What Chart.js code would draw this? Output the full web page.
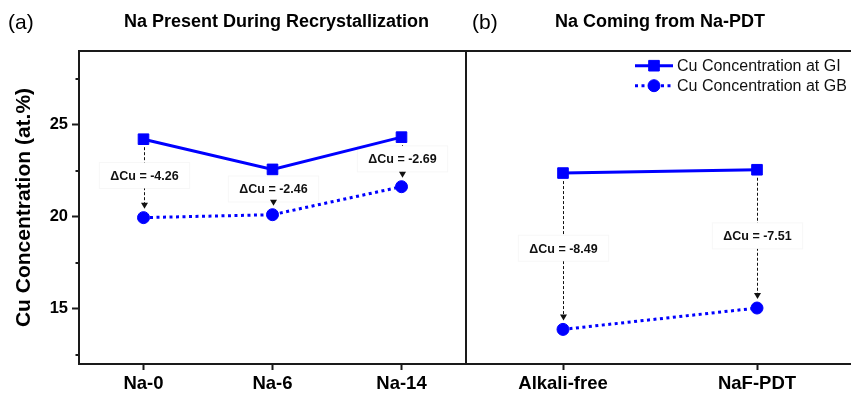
<!DOCTYPE html>
<html>
<head>
<meta charset="utf-8">
<script src="https://cdn.jsdelivr.net/npm/chart.js@4.4.1/dist/chart.umd.min.js"></script>
<style>
  html, body { margin: 0; padding: 0; background: #fff; }
  #wrap { position: relative; width: 851px; height: 393px; overflow: hidden; background: #fff; }
  #cA { position: absolute; left: 0; top: 0; }
  #cB { position: absolute; left: 465px; top: 0; }
</style>
</head>
<body>
<div id="wrap">
  <canvas id="cA" width="468" height="393"></canvas>
  <canvas id="cB" width="390" height="393"></canvas>
</div>
<script>
// Panel (a): Na present during recrystallization
const recrystCategories = ['Na-0', 'Na-6', 'Na-14'];
const recrystGI = [24.21, 22.57, 24.32];
const recrystGB = [19.95, 20.11, 21.63];

// Panel (b): Na supplied by post-deposition treatment
const pdtCategories = ['Alkali-free', 'NaF-PDT'];
const pdtGI = [22.37, 22.55];
const pdtGB = [13.88, 15.04];

const yTickLabels = [15, 20, 25];
const seriesNames = ['Cu Concentration at GI', 'Cu Concentration at GB'];
const panelTitles = ['Na Present During Recrystallization', 'Na Coming from Na-PDT'];
const panelLetters = ['(a)', '(b)'];
const yAxisTitle = 'Cu Concentration (at.%)';

const FONT = '"Liberation Sans", Arial, Helvetica, sans-serif';
const BLUE = '#0000ff';
const AXIS = '#1a1a1a';

function makeDatasets(gi, gb) {
  return [
    {
      label: seriesNames[0], data: gi,
      borderColor: BLUE, backgroundColor: BLUE, borderWidth: 3,
      pointStyle: 'rect', pointRadius: 7.5, pointBorderWidth: 1,
      pointBackgroundColor: BLUE, pointBorderColor: BLUE, tension: 0
    },
    {
      label: seriesNames[1], data: gb,
      borderColor: BLUE, backgroundColor: BLUE, borderWidth: 3, borderDash: [3, 3.5],
      pointStyle: 'circle', pointRadius: 6, pointBorderWidth: 1,
      pointBackgroundColor: BLUE, pointBorderColor: BLUE, tension: 0
    }
  ];
}

// Dashed arrows from GI to GB with the difference written in a white box
const deltaArrows = {
  id: 'deltaArrows',
  beforeDatasetsDraw(chart) {
    const { ctx } = chart;
    const x = chart.scales.x, y = chart.scales.y;
    const gi = chart.data.datasets[0].data, gb = chart.data.datasets[1].data;
    ctx.save();
    ctx.font = 'bold 12.5px ' + FONT;
    gi.forEach((v, i) => {
      const px = Math.round(x.getPixelForValue(i)) + 0.5;
      const y1 = y.getPixelForValue(v);
      const y2 = y.getPixelForValue(gb[i]);
      const label = '\u0394Cu = ' + (gb[i] - v).toFixed(2);
      const cy = (y1 + y2) / 2 - 3;
      const tw = ctx.measureText(label).width;
      const bw = tw + 22, bh = 26;
      ctx.strokeStyle = '#111';
      ctx.lineWidth = 1;
      ctx.setLineDash([3, 2]);
      ctx.beginPath();
      ctx.moveTo(px, y1 + 8);
      ctx.lineTo(px, y2 - 14);
      ctx.stroke();
      ctx.setLineDash([]);
      ctx.fillStyle = '#fff';
      ctx.fillRect(px - bw / 2, cy - bh / 2, bw, bh);
      ctx.strokeStyle = 'rgba(0,0,0,0.035)';
      ctx.strokeRect(px - bw / 2, cy - bh / 2, bw, bh);
      ctx.fillStyle = '#111';
      ctx.textAlign = 'center';
      ctx.textBaseline = 'middle';
      ctx.fillText(label, px, cy + 1);
      ctx.beginPath();
      ctx.moveTo(px - 3.5, y2 - 15);
      ctx.lineTo(px + 3.5, y2 - 15);
      ctx.lineTo(px, y2 - 9);
      ctx.closePath();
      ctx.fill();
    });
    ctx.restore();
  }
};

// Panel title, panel letter, frame lines and (optionally) the legend
const panelDecor = {
  id: 'panelDecor',
  afterDraw(chart, args, o) {
    const { ctx, chartArea: a } = chart;
    ctx.save();
    ctx.strokeStyle = AXIS;
    ctx.lineWidth = 2;
    ctx.beginPath();
    ctx.moveTo(a.left - 1, a.top);
    ctx.lineTo(a.right + 1, a.top);
    if (o.frameRight) {
      ctx.moveTo(a.right, a.top);
      ctx.lineTo(a.right, a.bottom);
    }
    ctx.stroke();

    ctx.fillStyle = '#000';
    ctx.textBaseline = 'middle';
    ctx.textAlign = 'center';
    ctx.font = 'bold 18px ' + FONT;
    ctx.fillText(o.title, (a.left + a.right) / 2 + (o.titleShift || 0), 22);
    ctx.textAlign = 'left';
    ctx.font = '21px ' + FONT;
    ctx.fillText(o.letter, o.letterX, 23);

    if (o.legend) {
      const Hs = Chart.helpers;
      chart.data.datasets.forEach((d, k) => {
        const yy = a.top + 14.7 + k * 20;
        const x0 = a.left + 169, x1 = a.left + 207, xm = (x0 + x1) / 2;
        ctx.strokeStyle = d.borderColor;
        ctx.lineWidth = d.borderWidth;
        ctx.setLineDash(d.borderDash || []);
        ctx.beginPath();
        ctx.moveTo(x0, yy);
        ctx.lineTo(x1, yy);
        ctx.stroke();
        ctx.setLineDash([]);
        ctx.fillStyle = d.pointBackgroundColor;
        ctx.strokeStyle = d.pointBorderColor;
        ctx.lineWidth = d.pointBorderWidth;
        Hs.drawPoint(ctx, { pointStyle: d.pointStyle, radius: d.pointRadius, borderWidth: d.pointBorderWidth, rotation: 0 }, xm, yy);
        ctx.fillStyle = '#111';
        ctx.font = '16px ' + FONT;
        ctx.textAlign = 'left';
        ctx.textBaseline = 'middle';
        ctx.fillText(d.label, a.left + 211, yy + 1);
      });
    }
    ctx.restore();
  }
};

// Short minor ticks on the y axis of panel (a)
const minorTicks = {
  id: 'minorTicks',
  afterDraw(chart) {
    const { ctx } = chart;
    const y = chart.scales.y;
    ctx.save();
    ctx.strokeStyle = AXIS;
    ctx.lineWidth = 2;
    y.ticks.forEach(t => {
      if (yTickLabels.includes(t.value)) return;
      const py = Math.round(y.getPixelForValue(t.value));
      ctx.beginPath();
      ctx.moveTo(chart.chartArea.left - 3.5, py);
      ctx.lineTo(chart.chartArea.left, py);
      ctx.stroke();
    });
    ctx.restore();
  }
};

function xScale() {
  return {
    type: 'category', offset: true,
    afterFit(s) { s.height = 29; },
    border: { display: true, color: AXIS, width: 2 },
    grid: { display: true, drawOnChartArea: false, tickLength: 6, tickWidth: 2, tickColor: AXIS },
    ticks: { padding: 3, color: '#000', maxRotation: 0, autoSkip: false, font: { family: FONT, size: 18.5, weight: 'bold' } }
  };
}

const common = {
  responsive: false,
  animation: false,
  events: [],
  devicePixelRatio: 1
};

new Chart(document.getElementById('cA'), {
  type: 'line',
  data: { labels: recrystCategories, datasets: makeDatasets(recrystGI, recrystGB) },
  plugins: [deltaArrows, panelDecor, minorTicks],
  options: Object.assign({}, common, {
    layout: { autoPadding: false, padding: { top: 51, right: 2, left: 0, bottom: 0 } },
    plugins: {
      legend: { display: false }, tooltip: { enabled: false }, title: { display: false },
      panelDecor: { title: panelTitles[0], letter: panelLetters[0], letterX: 8, frameRight: true, legend: false, titleShift: 4 }
    },
    scales: {
      x: xScale(),
      y: {
        min: 12, max: 29,
        afterFit(s) { s.width = 79; },
        border: { display: true, color: AXIS, width: 2 },
        grid: {
          display: true, drawOnChartArea: false, tickLength: 7, tickWidth: 2,
          tickColor: c => (c.tick && yTickLabels.includes(c.tick.value)) ? AXIS : 'rgba(0,0,0,0)'
        },
        ticks: {
          stepSize: 2.5, includeBounds: false, padding: 4, color: '#000',
          font: { family: FONT, size: 16.5, weight: 'bold' },
          callback: v => yTickLabels.includes(v) ? String(v) : ''
        },
        title: {
          display: true, text: yAxisTitle, color: '#000',
          font: { family: FONT, size: 21, weight: 'bold' },
          padding: { top: 12, bottom: 0 }
        }
      }
    }
  })
});

new Chart(document.getElementById('cB'), {
  type: 'line',
  data: { labels: pdtCategories, datasets: makeDatasets(pdtGI, pdtGB) },
  plugins: [deltaArrows, panelDecor],
  options: Object.assign({}, common, {
    layout: { autoPadding: false, padding: { top: 51, right: 1, left: 0, bottom: 0 } },
    plugins: {
      legend: { display: false }, tooltip: { enabled: false }, title: { display: false },
      panelDecor: { title: panelTitles[1], letter: panelLetters[1], letterX: 7, frameRight: false, legend: true, titleShift: 0 }
    },
    scales: {
      x: xScale(),
      y: {
        min: 12, max: 29,
        afterFit(s) { s.width = 1; },
        border: { display: true, color: AXIS, width: 2 },
        grid: { display: false, drawTicks: false },
        ticks: { display: false }
      }
    }
  })
});
</script>
</body>
</html>
